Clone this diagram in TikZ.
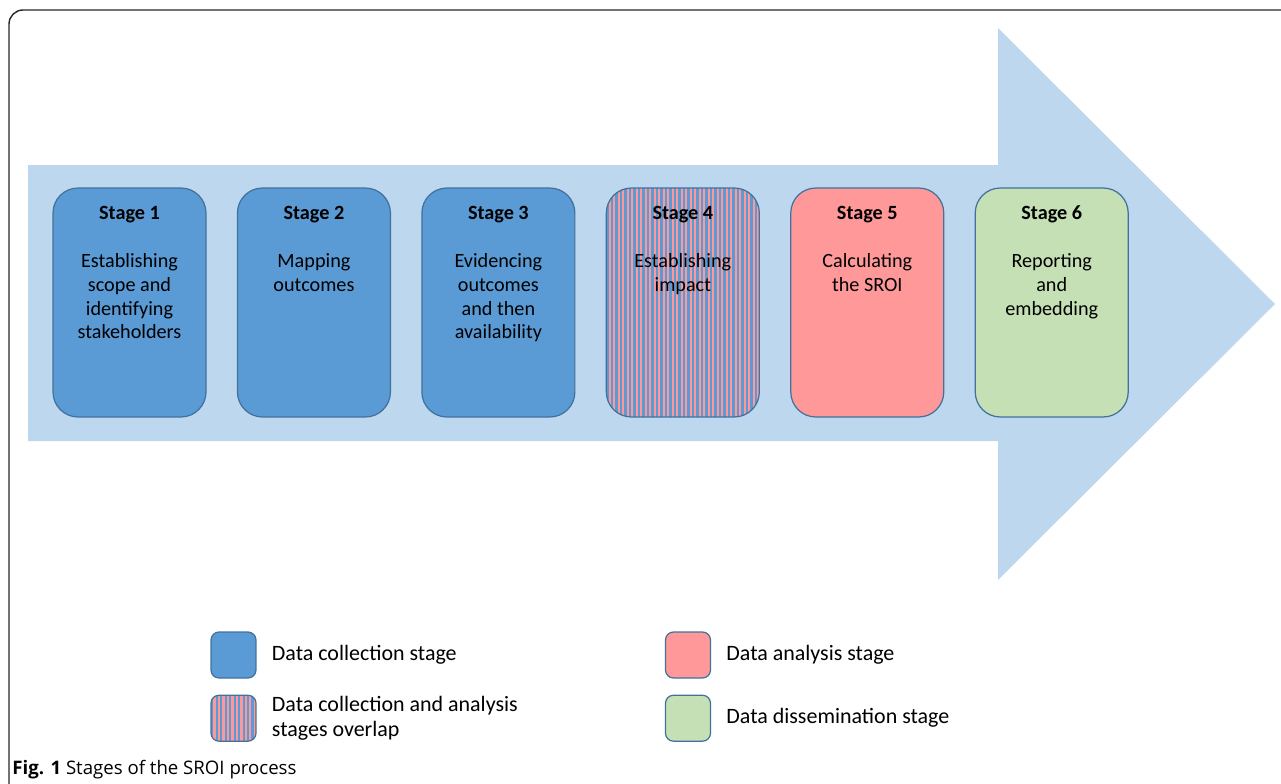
\documentclass[tikz,border=0pt]{standalone}
\usepackage{fontspec}
\setmainfont{Carlito}
\newfontfamily\capfont{Open Sans}
\usetikzlibrary{calc,positioning}
\definecolor{arrowblue}{HTML}{BDD7EE}
\definecolor{collectblue}{HTML}{5B9BD5}
\definecolor{edgeblue}{HTML}{41719C}
\definecolor{analysisred}{HTML}{FF9999}
\definecolor{dissemgreen}{HTML}{C5E0B4}
\tikzset{
  stagebox/.style={draw=edgeblue,line width=0.7pt,rounded corners=0.5cm,inner sep=0pt,
    minimum width=3.06cm,minimum height=4.58cm},
  keybox/.style={draw=edgeblue,line width=0.7pt,rounded corners=0.16cm,inner sep=0pt,
    minimum width=0.9cm,minimum height=0.92cm},
  striped/.style={fill=analysisred,path picture={
    \foreach \k in {0,0.09,...,3.2}
      \fill[collectblue,sharp corners] ([xshift=\k cm]path picture bounding box.south west)
        rectangle ([xshift=\k cm+0.045cm]path picture bounding box.north west);}},
  stagetext/.style={inner sep=0pt,align=center,anchor=north,
    font=\fontsize{11.5}{13.6}\selectfont},
  keytext/.style={inner sep=0pt,align=left,anchor=west,
    font=\fontsize{12.5}{14.2}\selectfont}
}
\begin{document}
\begin{tikzpicture}[x=0.02cm,y=-0.02cm]
\useasboundingbox (0,0) rectangle (1281,784);
\draw[line width=0.8pt,black!85,rounded corners=8] (9,784) -- (9,10) -- (1281,10);
\fill[arrowblue] (28,165) -- (998,165) -- (998,28) -- (1275,304) -- (998,580) -- (998,441) -- (28,441) -- cycle;

\node[stagebox,fill=collectblue] (s1) at (129.5,302.5) {};
\node[stagebox,fill=collectblue,right=0.605cm of s1] (s2) {};
\node[stagebox,fill=collectblue,right=0.605cm of s2] (s3) {};
\node[stagebox,striped,right=0.605cm of s3] (s4) {};
\node[stagebox,fill=analysisred,right=0.605cm of s4] (s5) {};
\node[stagebox,fill=dissemgreen,right=0.605cm of s5] (s6) {};

\node[stagetext,below=0.3cm of s1.north] (t1) {\textbf{Stage 1\strut}\\ \\Establishing\\scope and\\identifying\\stakeholders};
\node[stagetext,below=0.3cm of s2.north] (t2) {\textbf{Stage 2\strut}\\ \\Mapping\\outcomes};
\node[stagetext,below=0.3cm of s3.north] (t3) {\textbf{Stage 3\strut}\\ \\Evidencing\\outcomes\\and then\\availability};
\node[stagetext,below=0.3cm of s4.north] (t4) {\textbf{Stage 4\strut}\\ \\Establishing\\impact};
\node[stagetext,below=0.3cm of s5.north] (t5) {\textbf{Stage 5\strut}\\ \\Calculating\\the SROI};
\node[stagetext,below=0.3cm of s6.north] (t6) {\textbf{Stage 6\strut}\\ \\Reporting\\and\\embedding};

\node[keybox,fill=collectblue] (k1) at (233.5,655) {};
\node[keybox,striped,below=0.32cm of k1] (k2) {};
\node[keybox,fill=analysisred] (k3) at (688,655) {};
\node[keybox,fill=dissemgreen,below=0.32cm of k3] (k4) {};
\node[keytext,right=0.3cm of k1] (l1) {Data collection stage};
\node[keytext,right=0.3cm of k2] (l2) {Data collection and analysis\\stages overlap};
\node[keytext,right=0.3cm of k3] (l3) {Data analysis stage};
\node[keytext,right=0.3cm of k4] (l4) {Data dissemination stage};

\node[anchor=base west,inner sep=0pt,font=\capfont\fontsize{10.6}{12}\selectfont] (cap) at (12,774) {\textbf{Fig. 1} Stages of the SROI process};
\end{tikzpicture}
\end{document}
